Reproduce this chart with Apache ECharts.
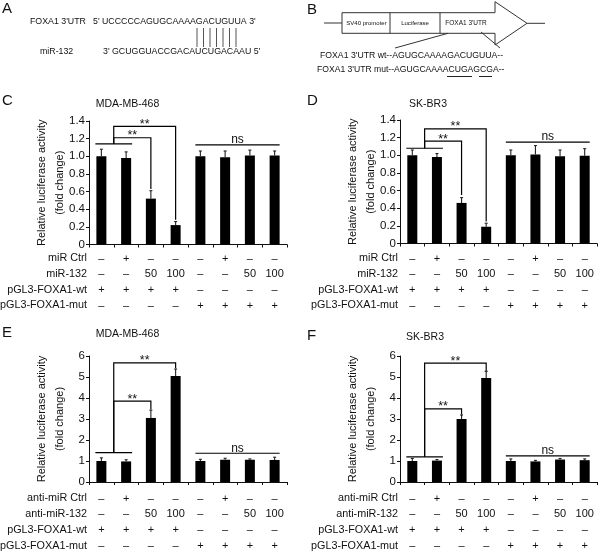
<!DOCTYPE html>
<html><head><meta charset="utf-8">
<script src="https://cdn.jsdelivr.net/npm/echarts@6/dist/echarts.min.js"></script>
<style>html,body{margin:0;padding:0;background:#fff}#c{width:600px;height:554px}</style>
</head><body><div id="c"></div>
<script>
// ---------- data ----------
const categories = ['1','2','3','4','5','6','7','8'];
const valuesC = [1.00, 0.98, 0.52, 0.22, 1.00, 0.99, 1.01, 1.01];
const errorsC = [0.08, 0.07, 0.09, 0.04, 0.06, 0.07, 0.06, 0.05];
const valuesD = [1.00, 0.98, 0.46, 0.19, 1.00, 1.01, 0.99, 0.995];
const errorsD = [0.06, 0.04, 0.06, 0.04, 0.06, 0.10, 0.07, 0.08];
const valuesE = [1.00, 0.98, 3.05, 5.05, 1.00, 1.06, 1.06, 1.05];
const errorsE = [0.15, 0.08, 0.37, 0.33, 0.08, 0.07, 0.04, 0.13];
const valuesF = [1.00, 1.02, 3.00, 4.95, 1.00, 0.98, 1.07, 1.04];
const errorsF = [0.12, 0.05, 0.19, 0.32, 0.10, 0.05, 0.05, 0.06];
const ticksTop = ['0','0.2','0.4','0.6','0.8','1.0','1.2','1.4'];
const ticksBottom = ['0','1','2','3','4','5','6'];
const ctrlRow = ['–','+','–','–','–','+','–','–'];
const doseRow = ['–','–','50','100','–','–','50','100'];
const wtRow = ['+','+','+','+','–','–','–','–'];
const mutRow = ['–','–','–','–','+','+','+','+'];
const rowLabelsTop = ['miR Ctrl','miR-132','pGL3-FOXA1-wt','pGL3-FOXA1-mut'];
const rowLabelsBottom = ['anti-miR Ctrl','anti-miR-132','pGL3-FOXA1-wt','pGL3-FOXA1-mut'];
const titles = ['MDA-MB-468','SK-BR3','MDA-MB-468','SK-BR3'];
const letters = ['C','D','E','F'];
// significance annotations in value units: control line, [target bar, bracket top, bracket end], ns line
const sigC = {ctrl: 1.14, brackets: [[2, 1.21, 0.63], [3, 1.34, 0.28]], ns: 1.13};
const sigD = {ctrl: 1.08, brackets: [[2, 1.16, 0.55], [3, 1.30, 0.25]], ns: 1.15};
const sigE = {ctrl: 1.40, brackets: [[2, 3.85, 3.45], [3, 5.67, 5.42]], ns: 1.37};
const sigF = {ctrl: 1.20, brackets: [[2, 3.48, 3.21], [3, 5.66, 5.29]], ns: 1.24};

// ---------- layout ----------
const FONT = 'Liberation Sans, Arial, Helvetica, sans-serif';
const INK = '#111';
const panels = [
  {vals: valuesC, errs: errorsC, sig: sigC, max: 1.4, step: 0.2, ticks: ticksTop, rows: rowLabelsTop,
   grid: {left: 89, top: 121, width: 198, height: 123.5}, rowY: [258.5, 274, 290, 305.5], title: [127.5, 104], letter: [2, 101]},
  {vals: valuesD, errs: errorsD, sig: sigD, max: 1.4, step: 0.2, ticks: ticksTop, rows: rowLabelsTop,
   grid: {left: 400, top: 120, width: 197, height: 123.5}, rowY: [258.5, 274, 290, 305.5], title: [428, 104], letter: [307, 101]},
  {vals: valuesE, errs: errorsE, sig: sigE, max: 6, step: 1, ticks: ticksBottom, rows: rowLabelsBottom,
   grid: {left: 89, top: 356, width: 198, height: 126}, rowY: [498.5, 514, 530, 546], title: [127.5, 334], letter: [2, 333]},
  {vals: valuesF, errs: errorsF, sig: sigF, max: 6, step: 1, ticks: ticksBottom, rows: rowLabelsBottom,
   grid: {left: 400, top: 356, width: 197, height: 126}, rowY: [498.5, 514, 530, 546], title: [425, 337], letter: [307, 336]}
];
const tableRows = [ctrlRow, doseRow, wtRow, mutRow];

const grids = [], xAxes = [], yAxes = [], series = [], graphics = [];

panels.forEach((p, k) => {
  grids.push(Object.assign({outerBoundsMode: 'none', containLabel: false}, p.grid));
  const bottom = p.grid.top + p.grid.height;
  xAxes.push({
    type: 'category', gridIndex: k, data: categories, position: 'bottom',
    axisLine: {lineStyle: {color: INK, width: 1}},
    axisTick: {show: true, length: 3, interval: 0, lineStyle: {color: INK}},
    axisLabel: {show: false}, splitLine: {show: false}
  });
  tableRows.forEach((row, r) => {
    xAxes.push({
      type: 'category', gridIndex: k, data: row, position: 'bottom', offset: p.rowY[r] - bottom,
      axisLine: {show: false}, axisTick: {show: false}, splitLine: {show: false},
      axisLabel: {interval: 0, margin: 0, verticalAlign: 'middle', fontSize: 11, color: INK, fontFamily: FONT},
      name: p.rows[r], nameLocation: 'start', nameGap: 2, nameMoveOverlap: false,
      nameTextStyle: {fontSize: 10.8, color: INK, fontFamily: FONT, align: 'right', verticalAlign: 'middle'}
    });
  });
  yAxes.push({
    type: 'value', gridIndex: k, min: 0, max: p.max, interval: p.step,
    axisLine: {show: true, lineStyle: {color: INK, width: 1}},
    axisTick: {show: true, length: 3, lineStyle: {color: INK}},
    splitLine: {show: false},
    axisLabel: {margin: 4, fontSize: 11.5, color: INK, fontFamily: FONT,
      formatter: v => p.ticks[Math.round(v / p.step)]},
    name: 'Relative luciferase activity\n(fold change)', nameLocation: 'middle', nameGap: 20, nameRotate: 90,
    nameMoveOverlap: false,
    nameTextStyle: {fontSize: 11, lineHeight: 18, color: INK, fontFamily: FONT}
  });
  const xi = k * 5;
  series.push({
    type: 'bar', xAxisIndex: xi, yAxisIndex: k, data: p.vals, barWidth: 10,
    itemStyle: {color: '#000'}, silent: true, animation: false
  });
  series.push({
    type: 'custom', xAxisIndex: xi, yAxisIndex: k, z: 4, silent: true, animation: false,
    data: p.vals.map((v, i) => [i, v, v + p.errs[i]]), encode: {x: 0, y: [1, 2]},
    renderItem: function (params, api) {
      const x = api.value(0);
      const a = api.coord([x, api.value(1)]);
      const b = api.coord([x, api.value(2)]);
      const st = {stroke: '#222', lineWidth: 1.1};
      return {type: 'group', children: [
        {type: 'line', shape: {x1: a[0], y1: a[1], x2: b[0], y2: b[1]}, style: st},
        {type: 'line', shape: {x1: b[0] - 1.5, y1: b[1], x2: b[0] + 1.5, y2: b[1]}, style: st}
      ]};
    }
  });
  const sig = p.sig;
  series.push({
    type: 'custom', xAxisIndex: xi, yAxisIndex: k, z: 5, silent: true, animation: false, clip: false,
    data: [[0, 0]],
    renderItem: function (params, api) {
      const cx = i => api.coord([i, 0])[0];
      const cy = v => api.coord([0, v])[1];
      const half = 5;
      const ls = {stroke: '#000', lineWidth: 1.2, fill: 'none'};
      const ch = [];
      const ctrlY = cy(sig.ctrl);
      ch.push({type: 'line', shape: {x1: cx(0) - half - 1, y1: ctrlY, x2: cx(1) + half + 1, y2: ctrlY}, style: ls});
      const mid = (cx(0) + cx(1)) / 2;
      sig.brackets.forEach(b => {
        const tx = cx(b[0]), ty = cy(b[1]), ey = cy(b[2]);
        ch.push({type: 'polyline', shape: {points: [[mid, ctrlY], [mid, ty], [tx, ty], [tx, ey]]}, style: ls});
        ch.push({type: 'text', style: {text: '**', x: (mid + tx) / 2, y: ty + 4.5, align: 'center', verticalAlign: 'bottom',
          fontSize: 12.5, fontFamily: FONT, fill: INK}});
      });
      const nsY = cy(sig.ns);
      const nx1 = cx(4) - half, nx2 = cx(7) + half;
      ch.push({type: 'line', shape: {x1: nx1, y1: nsY, x2: nx2, y2: nsY}, style: ls});
      ch.push({type: 'text', style: {text: 'ns', x: (nx1 + nx2) / 2, y: nsY + 1, align: 'center', verticalAlign: 'bottom',
        fontSize: 12, fontFamily: FONT, fill: INK}});
      return {type: 'group', children: ch};
    }
  });
  graphics.push({type: 'text', x: p.title[0], y: p.title[1], silent: true,
    style: {text: titles[k], fontSize: 10.5, fontFamily: FONT, fill: INK, align: 'center', verticalAlign: 'middle'}});
  graphics.push({type: 'text', x: p.letter[0], y: p.letter[1], silent: true,
    style: {text: letters[k], fontSize: 15, fontFamily: FONT, fill: INK, align: 'left', verticalAlign: 'middle'}});
});

// ---------- panels A and B (schematics) ----------
const seqSize = 8.8;
const T = (text, x, y, size, align) => ({type: 'text', x: x, y: y, silent: true,
  style: {text: text, fontSize: size, fontFamily: FONT, fill: INK, align: align || 'left', verticalAlign: 'middle'}});
const L = (x1, y1, x2, y2, c) => ({type: 'line', silent: true, shape: {x1, y1, x2, y2}, style: {stroke: c || '#333', lineWidth: 1}});
graphics.push(T('A', 2, 9, 15));
graphics.push(T("FOXA1 3'UTR", 30, 22, seqSize));
graphics.push(T("5' UCCCCCAGUGCAAAAGACUGUUA 3'", 93, 22, seqSize));
for (let i = 0; i < 7; i++) graphics.push(L(197 + i * 6.5, 28, 197 + i * 6.5, 47, '#555'));
graphics.push(T('miR-132', 40, 52, seqSize));
graphics.push(T("3' GCUGGUACCGACAUCUGACAAU 5'", 103, 52, seqSize));

graphics.push(T('B', 307, 10, 15));
graphics.push(L(324, 23, 342, 23));
graphics.push({type: 'polygon', silent: true,
  shape: {points: [[342, 12.7], [495, 12.7], [495, 1.7], [527, 23.3], [495, 45], [495, 33.3], [342, 33.3]]},
  style: {stroke: '#333', lineWidth: 1, fill: 'none'}});
graphics.push(L(390, 12.7, 390, 33.3));
graphics.push(L(440, 12.7, 440, 33.3));
graphics.push(L(527, 23.3, 545, 23.3));
graphics.push(T('SV40 promoter', 366.5, 23, 6, 'center'));
graphics.push(T('Luciferase', 415, 23, 6, 'center'));
graphics.push(T("FOXA1 3'UTR", 466, 23, 6.5, 'center'));
graphics.push(L(448, 33.3, 395, 48));
graphics.push(L(481, 32, 500, 48));
graphics.push(T("FOXA1 3'UTR wt--AGUGCAAAAGACUGUUA--", 320, 56, 8.7));
graphics.push(T("FOXA1 3'UTR mut--AGUGCAAAACUGAGCGA--", 317, 70, 8.6));
graphics.push(L(447, 76.5, 472, 76.5, '#222'));
graphics.push(L(479, 76.5, 492, 76.5, '#222'));

const chart = echarts.init(document.getElementById('c'), null, {renderer: 'canvas'});
chart.setOption({
  animation: false,
  backgroundColor: '#fff',
  textStyle: {fontFamily: FONT},
  grid: grids, xAxis: xAxes, yAxis: yAxes, series: series,
  graphic: {elements: graphics}
});
</script></body></html>
